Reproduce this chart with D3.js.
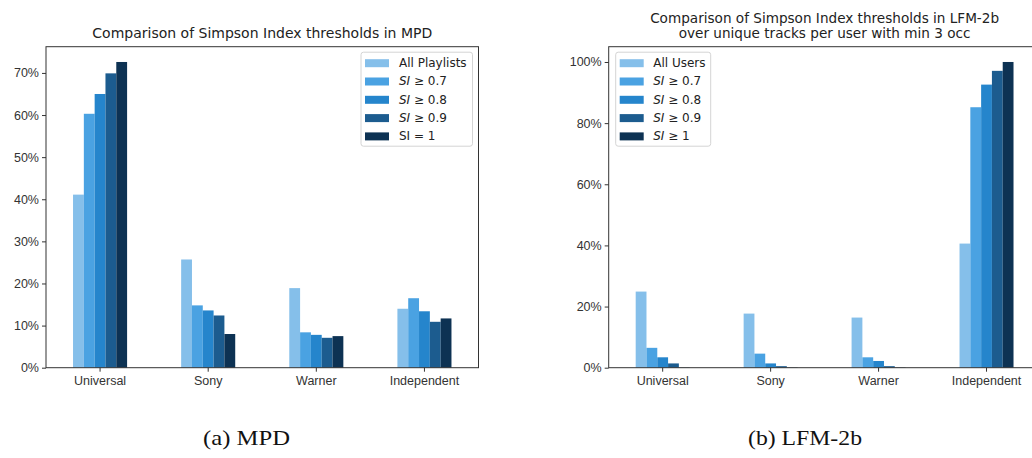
<!DOCTYPE html>
<html>
<head>
<meta charset="utf-8">
<script src="https://cdn.jsdelivr.net/npm/d3@7"></script>
<style>
	body { margin: 0; background: #fff; }
	svg { display: block; font-family: 'DejaVu Sans', sans-serif; }
	.tick text { fill: #333; }
	.tick line, .domain { stroke: #333; }
	.caption { font-family: 'Liberation Serif', 'DejaVu Serif', serif; font-size: 22px; fill: #111; }
</style>
</head>
<body>
<div id="chart"></div>
<script>
// data
const categories = [ 'Universal', 'Sony', 'Warner', 'Independent' ];
const colors = [ '#85bfea', '#4aa2e2', '#2585cc', '#1c5c8f', '#0d3253' ];

const mpdLabels = [ 'All Playlists', 'SI ≥ 0.7', 'SI ≥ 0.8', 'SI ≥ 0.9', 'SI = 1' ];
const mpdAll = [ 41.1, 25.7, 18.9, 14.0 ];
const mpdSi07 = [ 60.3, 14.8, 8.4, 16.5 ];
const mpdSi08 = [ 65.0, 13.6, 7.8, 13.4 ];
const mpdSi09 = [ 69.9, 12.4, 7.1, 10.9 ];
const mpdSi1 = [ 72.6, 8.0, 7.5, 11.7 ];

const lfmLabels = [ 'All Users', 'SI ≥ 0.7', 'SI ≥ 0.8', 'SI ≥ 0.9', 'SI ≥ 1' ];
const lfmAll = [ 24.9, 17.7, 16.4, 40.6 ];
const lfmSi07 = [ 6.5, 4.6, 3.4, 85.2 ];
const lfmSi08 = [ 3.4, 1.4, 2.2, 92.6 ];
const lfmSi09 = [ 1.4, 0.5, 0.5, 97.1 ];
const lfmSi1 = [ 0.1, 0.1, 0.1, 100 ];

const mpdTicks = [ 0, 10, 20, 30, 40, 50, 60, 70 ];
const lfmTicks = [ 0, 20, 40, 60, 80, 100 ];

const svg = d3.select('#chart').append('svg').attr('width', 1032).attr('height', 458);

function drawPanel(opts) {
	const { left, right, top, bottom, series, labels, ticks, title, legendX, italicLast } = opts;
	const g = svg.append('g');
	const yMax = d3.max(series, (s) => d3.max(s)) * 1.05;

	const x = d3.scaleBand().domain(categories).range([ left, right ]).paddingInner(0.5).paddingOuter(0.25);
	const xs = d3.scaleBand().domain(d3.range(series.length)).range([ 0, x.bandwidth() ]);
	const y = d3.scaleLinear().domain([ 0, yMax ]).range([ bottom, top ]);

	// bars
	series.forEach((vals, j) => {
		g
			.selectAll('.bar' + j)
			.data(vals)
			.enter()
			.append('rect')
			.attr('x', (d, i) => x(categories[i]) + xs(j))
			.attr('width', xs.bandwidth())
			.attr('y', (d) => y(d))
			.attr('height', (d) => bottom - y(d))
			.attr('fill', colors[j]);
	});

	// axes
	g
		.append('g')
		.attr('transform', 'translate(0,' + bottom + ')')
		.call(d3.axisBottom(x).tickSize(4).tickPadding(4).tickSizeOuter(0))
		.call((a) => a.select('.domain').remove());
	g
		.append('g')
		.attr('transform', 'translate(' + left + ',0)')
		.call(d3.axisLeft(y).tickValues(ticks).tickFormat((d) => d + '%').tickSize(4).tickPadding(3))
		.call((a) => a.select('.domain').remove());
	g.selectAll('.tick text').style('font-size', '12.5px');

	// frame
	g
		.append('rect')
		.attr('x', left)
		.attr('y', top)
		.attr('width', right - left)
		.attr('height', bottom - top)
		.attr('fill', 'none')
		.attr('stroke', '#333')
		.attr('stroke-width', 1);

	// title
	const cx = (left + right) / 2;
	title.forEach((t, i) => {
		g
			.append('text')
			.attr('x', cx)
			.attr('y', top - 9 - (title.length - 1 - i) * 14.5)
			.attr('text-anchor', 'middle')
			.style('font-size', title.length > 1 ? '13.6px' : '14px')
			.style('fill', '#222')
			.text(t);
	});

	// legend
	const lg = g.append('g').attr('transform', 'translate(' + legendX + ',' + (top + 5.5) + ')');
	lg
		.append('rect')
		.attr('width', opts.legendW)
		.attr('height', 94)
		.attr('rx', 2.5)
		.attr('fill', '#fff')
		.attr('stroke', '#d4d4d4');
	labels.forEach((lab, j) => {
		const row = lg.append('g').attr('transform', 'translate(4,' + (10.5 + j * 18.3) + ')');
		row.append('rect').attr('x', 0).attr('y', -3.5).attr('width', 24).attr('height', 8).attr('fill', colors[j]);
		const t = row.append('text').attr('x', opts.textDx).attr('dy', '0.35em').style('font-size', '12px').style('fill', '#222');
		if (lab.startsWith('SI') && (j < labels.length - 1 || italicLast)) {
			t.append('tspan').style('font-style', 'italic').text('SI');
			t.append('tspan').text(lab.slice(2));
		} else {
			t.text(lab);
		}
	});
}

drawPanel({
	left: 46,
	right: 478.5,
	top: 46.7,
	bottom: 367.7,
	series: [ mpdAll, mpdSi07, mpdSi08, mpdSi09, mpdSi1 ],
	labels: mpdLabels,
	ticks: mpdTicks,
	title: [ 'Comparison of Simpson Index thresholds in MPD' ],
	legendX: 361,
	legendW: 111.5,
	textDx: 34,
	italicLast: false
});

drawPanel({
	left: 608.7,
	right: 1040.5,
	top: 46.7,
	bottom: 367.7,
	series: [ lfmAll, lfmSi07, lfmSi08, lfmSi09, lfmSi1 ],
	labels: lfmLabels,
	ticks: lfmTicks,
	title: [ 'Comparison of Simpson Index thresholds in LFM-2b', 'over unique tracks per user with min 3 occ' ],
	legendX: 615.7,
	legendW: 95,
	textDx: 33.5,
	italicLast: true
});

// captions
svg
	.append('text')
	.attr('class', 'caption')
	.attr('x', 203)
	.attr('y', 445)
	.attr('textLength', 87)
	.attr('lengthAdjust', 'spacingAndGlyphs')
	.text('(a) MPD');
svg
	.append('text')
	.attr('class', 'caption')
	.attr('x', 748)
	.attr('y', 445)
	.attr('textLength', 114)
	.attr('lengthAdjust', 'spacingAndGlyphs')
	.text('(b) LFM-2b');
</script>
</body>
</html>
